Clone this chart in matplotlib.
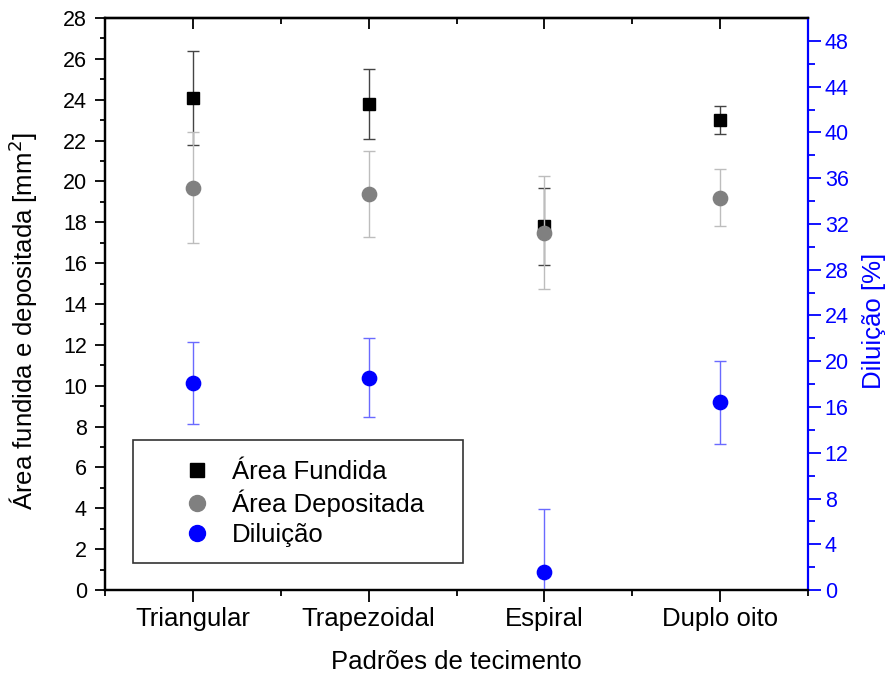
import matplotlib
matplotlib.use("Agg")
import matplotlib.pyplot as plt
from matplotlib.ticker import MultipleLocator, FixedLocator
from matplotlib.lines import Line2D
from matplotlib.patches import Rectangle

plt.rcParams['font.family'] = ['Liberation Sans', 'DejaVu Sans']

categories = ["Triangular", "Trapezoidal", "Espiral", "Duplo oito"]
area_fundida = [24.1, 23.8, 17.8, 23.0]
area_fundida_err = [2.3, 1.7, 1.9, 0.7]
area_depositada = [19.7, 19.4, 17.5, 19.2]
area_depositada_err = [2.7, 2.1, 2.75, 1.4]
diluicao = [18.1, 18.55, 1.57, 16.4]
diluicao_err = [3.6, 3.45, 5.5, 3.6]

x = list(range(1, len(categories) + 1))

fig = plt.figure(figsize=(8.9, 6.79), dpi=100)
ax = fig.add_axes([0.118, 0.131, 0.79, 0.8425])
ax2 = ax.twinx()

cap = 4
ax.errorbar(x, area_fundida, yerr=area_fundida_err, fmt='none', ecolor='#444444',
            elinewidth=1, capsize=cap, capthick=1, zorder=2)
ax.plot(x, area_fundida, linestyle='none', marker='s', markersize=9, color='black', zorder=3)
ax.errorbar(x, area_depositada, yerr=area_depositada_err, fmt='none', ecolor='#bdbdbd',
            elinewidth=1, capsize=cap, capthick=1, zorder=4)
ax.plot(x, area_depositada, linestyle='none', marker='o', markersize=10.3, color='#808080', zorder=5)

ax2.errorbar(x, diluicao, yerr=diluicao_err, fmt='none', ecolor='#6a6aff',
             elinewidth=1, capsize=cap, capthick=1, zorder=2)
ax2.plot(x, diluicao, linestyle='none', marker='o', markersize=10.3, color='#0000ff', zorder=3)

ax.set_xlim(0.5, 4.5)
ax.set_ylim(0, 28)
ax2.set_ylim(0, 50)

ax.set_xticks(x)
ax.set_xticklabels(categories)
ax.xaxis.set_minor_locator(FixedLocator([0.5, 1.5, 2.5, 3.5, 4.5]))
ax.yaxis.set_major_locator(MultipleLocator(2))
ax.yaxis.set_minor_locator(MultipleLocator(1))
ax2.yaxis.set_major_locator(FixedLocator(list(range(0, 49, 4))))
ax2.yaxis.set_minor_locator(FixedLocator(list(range(2, 50, 4))))

xfs = 18.5
yfs = 15.5
lfs = 18.5

ax.tick_params(axis='x', which='major', direction='out', length=8.5, width=1.3,
               labelsize=xfs, pad=4, top=False)
ax.tick_params(axis='x', which='minor', direction='out', length=4.5, width=1.3, top=False)
ax.tick_params(axis='y', which='major', direction='out', length=7, width=1.3,
               labelsize=yfs, pad=6)
ax.tick_params(axis='y', which='minor', direction='out', length=3.6, width=1.3)

top = ax.secondary_xaxis('top')
top.set_xticks(x)
top.xaxis.set_minor_locator(FixedLocator([0.5, 1.5, 2.5, 3.5, 4.5]))
top.tick_params(axis='x', which='major', direction='in', length=8, width=1.3, labeltop=False)
top.tick_params(axis='x', which='minor', direction='in', length=4.5, width=1.3)
top.set_xticklabels([])
top.spines['top'].set_linewidth(1.6)

ax2.tick_params(axis='y', which='major', direction='out', length=9, width=1.3,
                labelsize=yfs, colors='#0000ff', pad=3)
ax2.tick_params(axis='y', which='minor', direction='out', length=5, width=1.3, colors='#0000ff')

for s in ['left', 'bottom', 'top']:
    ax.spines[s].set_linewidth(1.6)
    ax2.spines[s].set_linewidth(1.6)
ax2.spines['right'].set_color('#0000ff')
ax2.spines['right'].set_linewidth(1.6)
ax.spines['right'].set_visible(False)

ax.set_xlabel("Padrões de tecimento", fontsize=lfs)
ax.xaxis.set_label_coords(0.5, -0.105)
ax.set_ylabel("Área fundida e depositada [mm$^2$]", fontsize=lfs)
ax.yaxis.set_label_coords(-0.093, 0.47)
ax2.set_ylabel("Diluição [%]", fontsize=lfs, color='#0000ff')
ax2.yaxis.set_label_coords(1.077, 0.47)

# legend frame
frame = Rectangle((0.0398, 0.047), 0.469, 0.215, transform=ax2.transAxes,
                  facecolor='white', edgecolor='#333333', linewidth=1.2, zorder=9)
ax2.add_patch(frame)

handles = [
    Line2D([], [], linestyle='none', marker='s', markersize=10, color='black'),
    Line2D([], [], linestyle='none', marker='o', markersize=11.5, color='#808080'),
    Line2D([], [], linestyle='none', marker='o', markersize=11.5, color='#0000ff'),
]
labels = ["Área Fundida", "Área Depositada", "Diluição"]
leg = ax2.legend(handles, labels, loc='upper left', bbox_to_anchor=(0.1124, 0.228),
                 fontsize=lfs, frameon=False, handletextpad=0.85, borderpad=0,
                 labelspacing=0.24, borderaxespad=0, handlelength=1.0)
leg.set_zorder(10)

fig.savefig("out.png", dpi=100)
